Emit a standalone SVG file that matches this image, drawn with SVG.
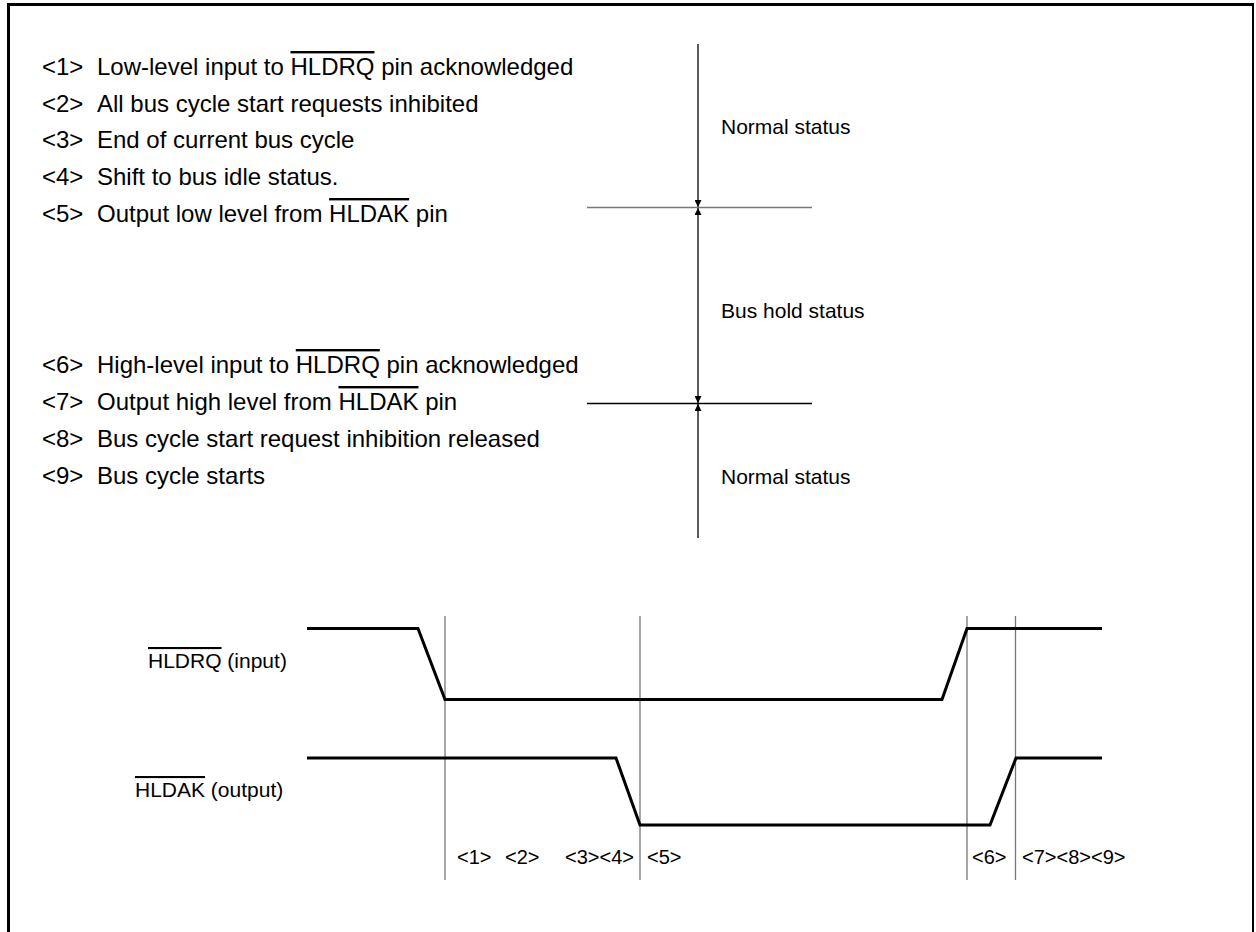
<svg xmlns="http://www.w3.org/2000/svg" width="1256" height="932" viewBox="0 0 1256 932">
<style>
.list{font-family:"Liberation Sans",Arial,sans-serif;font-size:24px;fill:#000}
.st{font-family:"Liberation Sans",Arial,sans-serif;font-size:21px;fill:#000}
.sig{font-family:"Liberation Sans",Arial,sans-serif;font-size:21px;fill:#000}
.lab{font-family:"Liberation Sans",Arial,sans-serif;font-size:20px;fill:#000}
.ol{text-decoration:overline}
.wave{fill:none;stroke:#000;stroke-width:3;stroke-linejoin:miter}
.grid{stroke:#777;stroke-width:1.3}
.ax{stroke:#000;stroke-width:1.3}
</style>
<defs>
<marker id="ah" viewBox="0 0 10 10" refX="10" refY="5" markerWidth="14" markerHeight="7" markerUnits="userSpaceOnUse" orient="auto">
<path d="M0,0 L10,5 L0,10 z" fill="#000"/>
</marker>
</defs>
<rect width="1256" height="932" fill="#fff"/>
<path d="M8.5,932 V4.5 H1253" fill="none" stroke="#000" stroke-width="3"/>
<line x1="1253" y1="3" x2="1253" y2="932" stroke="#000" stroke-width="2"/>

<g id="legend">
<text class="list" x="42" y="75">&lt;1&gt;</text><text class="list" x="97" y="75">Low-level input to <tspan class="ol">HLDRQ</tspan> pin acknowledged</text>
<text class="list" x="42" y="112">&lt;2&gt;</text><text class="list" x="97" y="112">All bus cycle start requests inhibited</text>
<text class="list" x="42" y="148">&lt;3&gt;</text><text class="list" x="97" y="148">End of current bus cycle</text>
<text class="list" x="42" y="185">&lt;4&gt;</text><text class="list" x="97" y="185">Shift to bus idle status.</text>
<text class="list" x="42" y="222">&lt;5&gt;</text><text class="list" x="97" y="222">Output low level from <tspan class="ol">HLDAK</tspan> pin</text>
<text class="list" x="42" y="373">&lt;6&gt;</text><text class="list" x="97" y="373">High-level input to <tspan class="ol">HLDRQ</tspan> pin acknowledged</text>
<text class="list" x="42" y="410">&lt;7&gt;</text><text class="list" x="97" y="410">Output high level from <tspan class="ol">HLDAK</tspan> pin</text>
<text class="list" x="42" y="447">&lt;8&gt;</text><text class="list" x="97" y="447">Bus cycle start request inhibition released</text>
<text class="list" x="42" y="484">&lt;9&gt;</text><text class="list" x="97" y="484">Bus cycle starts</text>
</g>

<g id="status">
<line class="ax" x1="698" y1="44" x2="698" y2="538"/>
<line class="grid" x1="587" y1="207.5" x2="812" y2="207.5"/>
<line class="ax" x1="587" y1="403.5" x2="812" y2="403.5"/>
<text class="st" x="721" y="134">Normal status</text>
<text class="st" x="721" y="318">Bus hold status</text>
<text class="st" x="721" y="484">Normal status</text>
</g>

<g id="arrows">
<line x1="698" y1="180" x2="698" y2="207" stroke="none" marker-end="url(#ah)"/>
<line x1="698" y1="235" x2="698" y2="208" stroke="none" marker-end="url(#ah)"/>
<line x1="698" y1="376" x2="698" y2="403" stroke="none" marker-end="url(#ah)"/>
<line x1="698" y1="431" x2="698" y2="404" stroke="none" marker-end="url(#ah)"/>
</g>

<g id="timing-grid">
<line class="grid" x1="445" y1="616" x2="445" y2="880"/>
<line class="grid" x1="640" y1="616" x2="640" y2="880"/>
<line class="grid" x1="967" y1="616" x2="967" y2="880"/>
<line class="grid" x1="1015.5" y1="616" x2="1015.5" y2="880"/>
</g>

<g id="hldrq">
<text class="sig" x="148" y="668"><tspan class="ol">HLDRQ</tspan> (input)</text>
<polyline class="wave" points="307,628.5 418,628.5 445,699.5 942,699.5 967,628.5 1102,628.5"/>
</g>

<g id="hldak">
<text class="sig" x="135" y="797"><tspan class="ol">HLDAK</tspan> (output)</text>
<polyline class="wave" points="307,758 616,758 640,825 990,825 1016,758 1102,758"/>
</g>

<g id="labels">
<text class="lab" x="457" y="864">&lt;1&gt;</text>
<text class="lab" x="505" y="864">&lt;2&gt;</text>
<text class="lab" x="565" y="864">&lt;3&gt;&lt;4&gt;</text>
<text class="lab" x="647" y="864">&lt;5&gt;</text>
<text class="lab" x="972" y="864">&lt;6&gt;</text>
<text class="lab" x="1022" y="864">&lt;7&gt;&lt;8&gt;&lt;9&gt;</text>
</g>
</svg>
